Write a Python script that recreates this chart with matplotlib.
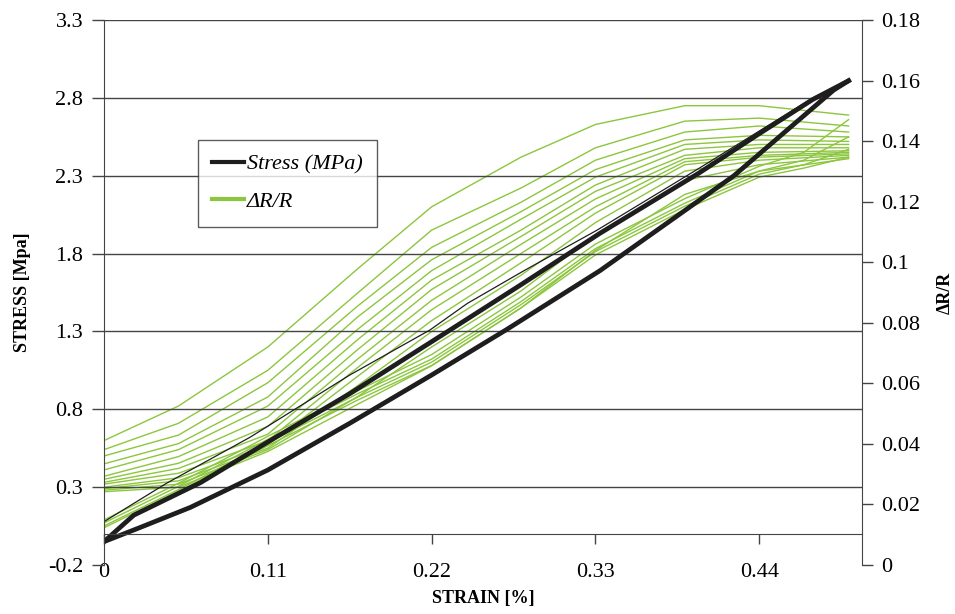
import matplotlib as mpl

mpl.use("Agg")
import matplotlib.pyplot as plt
from matplotlib.lines import Line2D

plt.rcParams["font.family"] = ["Liberation Serif", "DejaVu Serif"]

GREEN = "#8cc63e"
BLACK = "#1e1e1e"

# stress loop (MPa) vs strain (%)
load_strain = [0, 0.02, 0.065, 0.11, 0.165, 0.2325, 0.28, 0.333, 0.40, 0.44, 0.476, 0.5]
load_stress = [-0.05, 0.12, 0.33, 0.59, 0.90, 1.31, 1.60, 1.93, 2.32, 2.57, 2.79, 2.91]
unload_strain = [0.5, 0.49, 0.423, 0.333, 0.27, 0.22, 0.165, 0.11, 0.058, 0.024, 0]
unload_stress = [2.91, 2.85, 2.30, 1.69, 1.31, 1.02, 0.71, 0.41, 0.17, 0.04, -0.05]
first_strain = [0, 0.042, 0.098, 0.165, 0.219, 0.244, 0.282, 0.331, 0.40, 0.476, 0.5]
first_stress = [0.078, 0.325, 0.62, 1.02, 1.31, 1.48, 1.69, 1.95, 2.35, 2.80, 2.91]

# dR/R rising branches, one per cycle
fan_strain = [0, 0.05, 0.11, 0.17, 0.22, 0.28, 0.33, 0.39, 0.44, 0.5]
fan_dr = [
    [0.0411, 0.0525, 0.0720, 0.0977, 0.1183, 0.1347, 0.1455, 0.1517, 0.1517, 0.1486],
    [0.0381, 0.0468, 0.0643, 0.0897, 0.1106, 0.1245, 0.1378, 0.1466, 0.1476, 0.1450],
    [0.0360, 0.0429, 0.0602, 0.0854, 0.1049, 0.1198, 0.1337, 0.1430, 0.1450, 0.1430],
    [0.0334, 0.0401, 0.0555, 0.0818, 0.1008, 0.1167, 0.1306, 0.1404, 0.1419, 0.1414],
    [0.0314, 0.0381, 0.0525, 0.0777, 0.0972, 0.1142, 0.1281, 0.1389, 0.1404, 0.1399],
    [0.0293, 0.0358, 0.0489, 0.0743, 0.0941, 0.1106, 0.1255, 0.1373, 0.1389, 0.1389],
    [0.0283, 0.0336, 0.0458, 0.0710, 0.0910, 0.1085, 0.1234, 0.1353, 0.1378, 0.1378],
    [0.0273, 0.0319, 0.0432, 0.0679, 0.0874, 0.1059, 0.1209, 0.1342, 0.1363, 0.1368],
    [0.0267, 0.0303, 0.0411, 0.0651, 0.0843, 0.1029, 0.1183, 0.1332, 0.1353, 0.1363],
    [0.0257, 0.0288, 0.0396, 0.0622, 0.0807, 0.0998, 0.1162, 0.1322, 0.1347, 0.1358],
    [0.0252, 0.0278, 0.0386, 0.0591, 0.0771, 0.0957, 0.1131, 0.1301, 0.1337, 0.1353],
    [0.0247, 0.0267, 0.0381, 0.0555, 0.0720, 0.0905, 0.1090, 0.1270, 0.1322, 0.1347],
    [0.0242, 0.0257, 0.0375, 0.0530, 0.0658, 0.0849, 0.1039, 0.1224, 0.1301, 0.1342],
]

# dR/R falling branches
ret_strain = [0.5, 0.47, 0.44, 0.39, 0.33, 0.28, 0.22, 0.17, 0.11, 0.05, 0]
ret_dr = [
    [0.1471, 0.1363, 0.1317, 0.1210, 0.1060, 0.0885, 0.0695, 0.0575, 0.0425, 0.0270, 0.0149],
    [0.1414, 0.1337, 0.1301, 0.1195, 0.1045, 0.0870, 0.0680, 0.0565, 0.0415, 0.0260, 0.0139],
    [0.1373, 0.1322, 0.1291, 0.1185, 0.1035, 0.0860, 0.0670, 0.0554, 0.0404, 0.0249, 0.0129],
    [0.1347, 0.1311, 0.1281, 0.1174, 0.1024, 0.0849, 0.0659, 0.0544, 0.0394, 0.0244, 0.0123],
]

x_ticks = [0, 0.11, 0.22, 0.33, 0.44]
x_labels = ["0", "0.11", "0.22", "0.33", "0.44"]
y_ticks = [-0.2, 0.3, 0.8, 1.3, 1.8, 2.3, 2.8, 3.3]
y_labels = ["-0.2", "0.3", "0.8", "1.3", "1.8", "2.3", "2.8", "3.3"]
y2_ticks = [0, 0.02, 0.04, 0.06, 0.08, 0.1, 0.12, 0.14, 0.16, 0.18]
y2_labels = ["0", "0.02", "0.04", "0.06", "0.08", "0.1", "0.12", "0.14", "0.16", "0.18"]

fig = plt.figure(figsize=(9.55, 6.14), dpi=100)
ax = fig.add_axes([0.1089, 0.0798, 0.7937, 0.8876])
ax2 = ax.twinx()
ax.set_zorder(ax2.get_zorder() + 1)
ax.patch.set_visible(False)

for row in fan_dr:
    ax2.plot(fan_strain, row, color=GREEN, lw=1.0)
for row in ret_dr:
    ax2.plot(ret_strain, row, color=GREEN, lw=1.0)

ax.plot(first_strain, first_stress, color=BLACK, lw=0.9)
ax.plot(load_strain, load_stress, color=BLACK, lw=3.4)
ax.plot(unload_strain, unload_stress, color=BLACK, lw=3.4)

ax.set_xlim(0, 0.509)
ax.set_ylim(-0.2, 3.3)
ax2.set_ylim(0, 0.18)

ax.set_yticks(y_ticks)
ax.set_yticklabels(y_labels)
ax.set_xticks(x_ticks)
ax.set_xticklabels(x_labels)
ax2.set_yticks(y2_ticks)
ax2.set_yticklabels(y2_labels)

for t in y_ticks[1:]:
    ax.axhline(t, color="#444444", lw=1.0, zorder=0)

for a in (ax, ax2):
    a.spines["top"].set_visible(False)
ax.spines["right"].set_visible(False)
ax.spines["bottom"].set_position(("data", 0))
ax2.spines["bottom"].set_visible(False)
ax2.spines["left"].set_visible(False)
for s in ("left", "bottom"):
    ax.spines[s].set_color("#444444")
ax2.spines["right"].set_color("#444444")

ax.tick_params(axis="y", direction="out", length=9, width=1, color="#444444",
               labelsize=16, pad=6)
ax.tick_params(axis="x", direction="out", length=7, width=1, color="#444444",
               labelsize=16, pad=14)
ax2.tick_params(axis="y", direction="out", length=8, width=1, color="#444444",
                labelsize=16, pad=6)

ax.set_ylabel("STRESS [Mpa]", fontsize=13, fontweight="bold", labelpad=12)
ax2.set_ylabel("ΔR/R", fontsize=13, fontweight="bold", labelpad=12)
ax.set_xlabel("STRAIN [%]", fontsize=13, fontweight="bold", labelpad=6)

handles = [Line2D([], [], color=BLACK, lw=3), Line2D([], [], color=GREEN, lw=3)]
leg = ax.legend(handles, ["Stress (MPa)", "ΔR/R"], loc="upper left",
                bbox_to_anchor=(0.124, 0.78), borderaxespad=0, frameon=True,
                fancybox=False, prop={"style": "italic", "size": 16},
                handlelength=1.4, handletextpad=0.15, borderpad=0.65,
                labelspacing=0.75)
leg.get_frame().set_edgecolor("#333333")
leg.get_frame().set_linewidth(1.0)

fig.savefig("out.png", dpi=100)
